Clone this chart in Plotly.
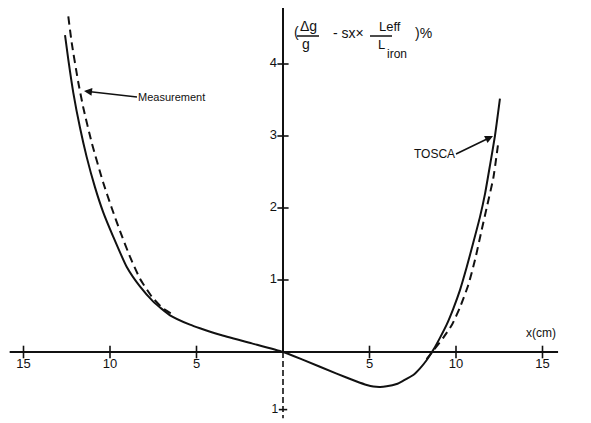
import plotly.graph_objects as go

# ---------------- data ----------------
tosca_x = [-12.6, -12.41, -12.12, -11.73, -11.35, -10.87, -10.39, -9.81, -9.03, -8.27,
           -7.5, -6.53, -5.38, -4.8, -3.64, -1.8, 0.0, 1.17, 3.1, 4.26, 4.84, 5.22,
           5.61, 5.99, 6.57, 6.95, 7.53, 7.92, 8.31, 8.69, 9.08, 9.46, 9.84, 10.23,
           10.62, 11.0, 11.39, 11.68, 11.97, 12.25, 12.54]
tosca_y = [4.40, 4.06, 3.60, 3.11, 2.71, 2.29, 1.94, 1.60, 1.18, 0.91,
           0.70, 0.51, 0.38, 0.33, 0.24, 0.12, 0.0, -0.11, -0.30, -0.41, -0.458, -0.48,
           -0.486, -0.477, -0.444, -0.398, -0.319, -0.227, -0.111, 0.03, 0.20, 0.38, 0.60, 0.86,
           1.18, 1.52, 1.88, 2.2, 2.6, 3.0, 3.52]

meas_left_x = [-12.41, -12.21, -11.83, -11.54, -11.06, -10.39, -9.9, -9.42, -8.84,
               -8.27, -7.59, -7.01, -6.24]
meas_left_y = [4.66, 4.29, 3.74, 3.39, 2.91, 2.35, 2.0, 1.68, 1.32,
               1.02, 0.77, 0.62, 0.50]
meas_right_x = [8.3, 8.69, 9.27, 9.75, 10.23, 10.71, 11.1, 11.48, 11.77, 12.16, 12.45]
meas_right_y = [-0.10, 0.02, 0.20, 0.37, 0.62, 0.93, 1.28, 1.69, 2.0, 2.42, 2.92]

x_tick_vals = [-15, -10, -5, 5, 10, 15]
x_tick_text = ["15", "10", "5", "5", "10", "15"]
y_tick_vals = [1, 2, 3, 4]
y_tick_text = ["1", "2", "3", "4"]
y_low_tick_vals = [-0.8]
y_low_tick_text = ["1"]

x_axis_ends = [-15.8, 15.9]
y_axis_top = [0, 4.82]
y_axis_bottom = [0, -0.92]

# ---------------- pixel helpers (screen pixels) for placement ----------------
X0, SX = 283.0, 17.3   # screen pixel of x=0, pixels per cm
Y0, SY = 352.0, 72.0   # screen pixel of y=0, pixels per unit
OFF = 8                # page body margin
W, H = 591, 423


def px(p):
    return (p - X0) / SX


def py(p):
    return (Y0 - p) / SY


BLACK = "#111111"
FONT = "Liberation Sans"

fig = go.Figure()

# axes drawn as data lines
fig.add_trace(go.Scatter(x=x_axis_ends, y=[0, 0], mode="lines",
                         line=dict(color=BLACK, width=2), hoverinfo="skip"))
fig.add_trace(go.Scatter(x=[0, 0], y=y_axis_top, mode="lines",
                         line=dict(color=BLACK, width=2), hoverinfo="skip"))
fig.add_trace(go.Scatter(x=[0, 0], y=y_axis_bottom, mode="lines",
                         line=dict(color=BLACK, width=1.6, dash="6px,3px"), hoverinfo="skip"))

# ticks
fig.add_trace(go.Scatter(x=x_tick_vals, y=[0] * len(x_tick_vals), mode="markers+text",
                         marker=dict(symbol="line-ns", size=9,
                                     line=dict(color=BLACK, width=1.6)),
                         text=x_tick_text, textposition="bottom center",
                         textfont=dict(family=FONT, size=13, color=BLACK),
                         hoverinfo="skip"))
fig.add_trace(go.Scatter(x=[0] * len(y_tick_vals), y=y_tick_vals, mode="markers+text",
                         marker=dict(symbol="line-ew", size=8,
                                     line=dict(color=BLACK, width=1.6)),
                         text=y_tick_text, textposition="middle left",
                         textfont=dict(family=FONT, size=13, color=BLACK),
                         hoverinfo="skip"))
fig.add_trace(go.Scatter(x=[0] * len(y_low_tick_vals), y=y_low_tick_vals, mode="markers+text",
                         marker=dict(symbol="line-ew", size=6,
                                     line=dict(color=BLACK, width=1.6)),
                         text=y_low_tick_text, textposition="middle left",
                         textfont=dict(family=FONT, size=12, color=BLACK),
                         hoverinfo="skip"))

# curves
fig.add_trace(go.Scatter(x=tosca_x, y=tosca_y, mode="lines", name="TOSCA",
                         line=dict(color=BLACK, width=2, shape="spline", smoothing=0.5)))
fig.add_trace(go.Scatter(x=meas_left_x, y=meas_left_y, mode="lines", name="Measurement",
                         line=dict(color=BLACK, width=2, dash="8px,5px",
                                   shape="spline", smoothing=0.5)))
fig.add_trace(go.Scatter(x=meas_right_x, y=meas_right_y, mode="lines", name="Measurement",
                         showlegend=False,
                         line=dict(color=BLACK, width=2, dash="8px,5px",
                                   shape="spline", smoothing=0.5)))

ann = []
# labels with arrows (text sits at the arrow tail)
ann.append(dict(x=px(84), y=py(91), ax=px(137), ay=py(97), axref="x", ayref="y",
                text="Measurement", showarrow=True, arrowhead=2, arrowsize=1,
                arrowwidth=1.6, arrowcolor=BLACK, xanchor="left", yanchor="middle",
                borderpad=0,
                font=dict(family=FONT, size=11, color=BLACK)))
ann.append(dict(x=px(493), y=py(136), ax=px(456), ay=py(154), axref="x", ayref="y",
                text="TOSCA", showarrow=True, arrowhead=2, arrowsize=1,
                arrowwidth=1.6, arrowcolor=BLACK, xanchor="right", yanchor="middle",
                borderpad=0,
                font=dict(family=FONT, size=12, color=BLACK)))
ann.append(dict(x=px(558), y=py(333), text="x(cm)", showarrow=False,
                xanchor="right", yanchor="middle",
                font=dict(family=FONT, size=12, color=BLACK)))


# y-axis title: (Δg/g - sx × Leff/Liron )%
def t(xp, yp, s, size=12, anchor="center"):
    ann.append(dict(x=px(xp), y=py(yp), text=s, showarrow=False,
                    xanchor=anchor, yanchor="middle",
                    font=dict(family=FONT, size=size, color=BLACK)))


t(296, 32, "(", 14)
t(308, 26, "Δg", 14)
t(306, 44, "g", 14)
t(348, 33, "- sx×", 14)
t(377, 26, "Leff", 13, "left")
t(376, 44, "L", 13, "left")
t(385, 54, "iron", 12, "left")
t(423, 33, ")%", 14)

fig.update_layout(
    width=W, height=H, autosize=False,
    margin=dict(l=0, r=0, t=0, b=0),
    paper_bgcolor="white", plot_bgcolor="white",
    showlegend=False,
    xaxis=dict(range=[px(OFF), px(W + OFF)], visible=False, fixedrange=True),
    yaxis=dict(range=[py(H + OFF), py(OFF)], visible=False, fixedrange=True),
    annotations=ann,
    shapes=[
        dict(type="line", xref="x", yref="y", x0=px(297), x1=px(319), y0=py(36), y1=py(36),
             line=dict(color=BLACK, width=1.5)),
        dict(type="line", xref="x", yref="y", x0=px(370), x1=px(392), y0=py(36), y1=py(36),
             line=dict(color=BLACK, width=1.5)),
    ],
)

fig.write_html("out.html")
